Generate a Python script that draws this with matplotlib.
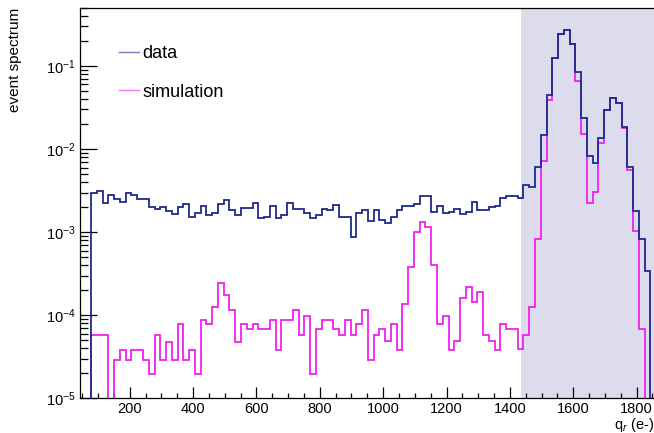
import numpy as np
import matplotlib
matplotlib.use('Agg')
import matplotlib.pyplot as plt
from matplotlib.ticker import MultipleLocator, LogLocator, NullFormatter

plt.rcParams['font.family'] = ['Liberation Sans', 'DejaVu Sans']
plt.rcParams['mathtext.fontset'] = 'custom'
plt.rcParams['mathtext.rm'] = 'Liberation Sans'
plt.rcParams['mathtext.it'] = 'Liberation Sans:italic'

# histogram binning (charge in e-)
bin_start = 78.0
bin_width = 18.2

# normalised event spectrum, measured
data = [2.95e-3, 3.17e-3, 2.23e-3, 2.79e-3, 2.50e-3, 2.32e-3, 3.0e-3, 2.79e-3, 2.50e-3, 2.50e-3,
        2.0e-3, 1.91e-3, 2.0e-3, 1.79e-3, 1.65e-3, 2.0e-3, 2.17e-3, 1.53e-3, 1.72e-3, 2.07e-3,
        1.62e-3, 1.72e-3, 2.17e-3, 2.45e-3, 1.86e-3, 1.62e-3, 1.95e-3, 1.95e-3, 2.27e-3, 1.50e-3,
        1.54e-3, 2.04e-3, 1.47e-3, 1.62e-3, 2.24e-3, 1.89e-3, 1.89e-3, 1.69e-3, 1.50e-3, 1.62e-3,
        1.89e-3, 1.86e-3, 2.15e-3, 1.54e-3, 1.54e-3, 8.85e-4, 1.69e-3, 1.86e-3, 1.38e-3, 1.83e-3,
        1.41e-3, 1.30e-3, 1.54e-3, 1.83e-3, 2.07e-3, 2.07e-3, 2.17e-3, 2.74e-3, 2.74e-3, 1.77e-3,
        2.07e-3, 1.72e-3, 1.77e-3, 1.89e-3, 1.66e-3, 1.77e-3, 2.30e-3, 1.86e-3, 1.86e-3, 2.0e-3,
        2.07e-3, 2.57e-3, 2.7e-3, 2.75e-3, 2.57e-3, 3.72e-3, 3.54e-3, 6.17e-3, 1.46e-2, 4.51e-2,
        0.125, 0.245, 0.274, 0.186, 8.37e-2, 2.36e-2, 8.3e-3, 6.9e-3, 1.38e-2, 2.98e-2,
        4.11e-2, 3.58e-2, 1.87e-2, 6.17e-3, 1.82e-3, 8.2e-4, 3.42e-4]

# normalised event spectrum, simulated
sim = [5.83e-5, 5.83e-5, 5.83e-5, 0, 2.89e-5, 3.82e-5, 2.89e-5, 3.82e-5, 3.82e-5, 2.89e-5,
       1.96e-5, 5.83e-5, 2.89e-5, 4.81e-5, 2.89e-5, 7.78e-5, 2.89e-5, 3.82e-5, 1.96e-5, 8.78e-5,
       7.78e-5, 1.27e-4, 2.43e-4, 1.76e-4, 1.16e-4, 4.81e-5, 7.78e-5, 6.78e-5, 7.78e-5, 6.78e-5,
       6.78e-5, 8.78e-5, 3.82e-5, 8.78e-5, 8.78e-5, 1.16e-4, 5.83e-5, 9.9e-5, 1.96e-5, 6.78e-5,
       8.78e-5, 8.78e-5, 6.78e-5, 5.83e-5, 8.78e-5, 5.83e-5, 7.78e-5, 1.16e-4, 2.89e-5, 5.83e-5,
       6.78e-5, 4.9e-5, 7.78e-5, 3.82e-5, 1.36e-4, 3.85e-4, 1.0e-3, 1.31e-3, 1.15e-3, 4.04e-4,
       7.78e-5, 9.9e-5, 3.82e-5, 4.9e-5, 1.60e-4, 2.21e-4, 1.46e-4, 1.93e-4, 5.83e-5, 4.9e-5,
       3.82e-5, 7.78e-5, 6.78e-5, 6.78e-5, 3.89e-5, 5.79e-5, 1.27e-4, 8.2e-4, 7.1e-3, 3.93e-2,
       0.125, 0.245, 0.274, 0.186, 6.7e-2, 1.52e-2, 2.23e-3, 3.03e-3, 1.18e-2, 2.98e-2,
       4.11e-2, 3.58e-2, 1.79e-2, 5.64e-3, 1.02e-3, 6.78e-5, 0]

# shaded fit window
window_lo = 1436
x_range = (42, 1855)
y_range = (1e-5, 0.5)

edges = bin_start + bin_width * np.arange(len(data) + 1)

fig = plt.figure(figsize=(6.54, 4.33), dpi=100)
ax = fig.add_axes([0.1219, 0.0801, 0.8781, 0.9014])

ax.axvspan(window_lo, x_range[1], color='#dcdcec', lw=0, zorder=0)
ax.stairs(data, edges, color='#1e2a8c', lw=1.3, label='data', zorder=3)
ax.stairs(sim, edges, color='#f020f0', lw=1.3, label='simulation', zorder=2)

ax.set_yscale('log')
ax.set_xlim(*x_range)
ax.set_ylim(*y_range)

ax.xaxis.set_major_locator(MultipleLocator(200))
ax.xaxis.set_minor_locator(MultipleLocator(50))
ax.yaxis.set_major_locator(LogLocator(base=10))
ax.yaxis.set_minor_locator(LogLocator(base=10, subs=np.arange(2, 10)))
ax.yaxis.set_minor_formatter(NullFormatter())

ax.tick_params(axis='x', which='major', direction='in', length=8, width=0.9, labelsize=10.5, pad=3)
ax.tick_params(axis='x', which='minor', direction='in', length=3.5, width=0.9)
ax.tick_params(axis='y', which='major', direction='in', length=12, width=0.9, labelsize=10.5, pad=3)
ax.tick_params(axis='y', which='minor', direction='in', length=6, width=0.9)

for s in ['left', 'bottom', 'top']:
    ax.spines[s].set_linewidth(0.9)
ax.spines['right'].set_visible(False)

ax.set_ylabel('event spectrum', fontsize=11, loc='top')
ax.yaxis.set_label_coords(-0.1, 1.0)
ax.set_xlabel('q$_{r}$ (e-)', fontsize=10.5, loc='right')
ax.xaxis.set_label_coords(1.0, -0.046)

leg = ax.legend(loc='upper left', bbox_to_anchor=(0.068, 0.905), frameon=False, fontsize=13,
                handlelength=1.1, handletextpad=0.2, labelspacing=1.2, borderpad=0, borderaxespad=0)
for h in leg.get_lines():
    h.set_linewidth(1.0)
    h.set_alpha(0.6)

fig.savefig('out.png', dpi=100)
